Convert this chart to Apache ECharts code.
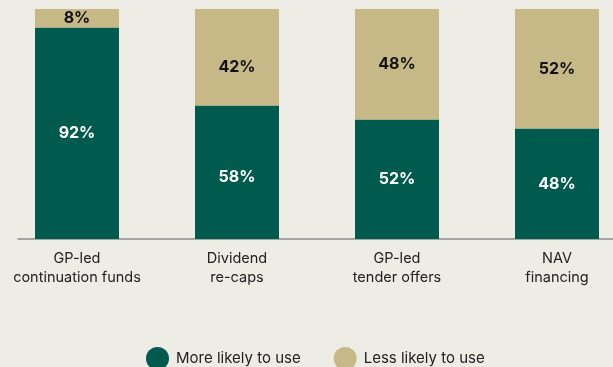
<!DOCTYPE html>
<html>
<head>
<meta charset="utf-8">
<script src="https://cdn.jsdelivr.net/npm/echarts@6/dist/echarts.min.js"></script>
<style>
  html, body { margin: 0; padding: 0; background: #EDECE5; }
  #chart { width: 613px; height: 367px; }
</style>
</head>
<body>
<div id="chart"></div>
<script>
// Deal structures and share of respondents by intention
const categories = [
  'GP-led\ncontinuation funds',
  'Dividend\nre-caps',
  'GP-led\ntender offers',
  'NAV\nfinancing'
];
const moreLikely = [92, 58, 52, 48];
const lessLikely = [8, 42, 48, 52];
const seriesNames = ['More likely to use', 'Less likely to use'];

const GREEN = '#005A4E';
const TAN = '#C7B888';
const FONT = 'Inter, "Noto Sans", sans-serif';

// the Dividend re-caps labels sit a little below their segment centres
const labelNudge = { 1: 10 };
const labelNudgeGreen = { 1: 5 };
const withNudge = (values, nudge) =>
  values.map((v, i) => (nudge[i] ? { value: v, label: { offset: [0, nudge[i]] } } : v));

const chart = echarts.init(document.getElementById('chart'), null, { renderer: 'canvas' });

chart.setOption({
  backgroundColor: '#EDECE5',
  animation: false,
  textStyle: { fontFamily: FONT },
  grid: [
    // bars: bands are 160px wide, so the plot runs a little past both edges
    { left: -3, right: -24, top: 9, height: 230, outerBoundsMode: 'none', containLabel: false },
    // baseline rule
    { left: 18, right: 0, top: 9, height: 230, outerBoundsMode: 'none' }
  ],
  xAxis: [
    {
      gridIndex: 0,
      type: 'category',
      data: categories,
      axisLine: { show: false },
      axisTick: { show: false },
      axisLabel: {
        interval: 0,
        color: '#222',
        fontSize: 14.5,
        lineHeight: 19,
        margin: 10,
        fontFamily: FONT
      }
    },
    {
      gridIndex: 1,
      type: 'category',
      data: [''],
      axisLine: { show: true, lineStyle: { color: '#8C8C8C', width: 1.5 } },
      axisTick: { show: false },
      axisLabel: { show: false }
    }
  ],
  yAxis: [
    { gridIndex: 0, type: 'value', min: 0, max: 100, show: false },
    { gridIndex: 1, type: 'value', min: 0, max: 100, show: false }
  ],
  legend: {
    left: 141,
    top: 342,
    itemWidth: 23,
    itemHeight: 23,
    itemGap: 33,
    icon: 'circle',
    textStyle: { color: '#222', fontSize: 15, fontFamily: FONT, padding: [0, 0, 0, 2] },
    data: seriesNames
  },
  series: [
    {
      name: seriesNames[0],
      type: 'bar',
      stack: 'total',
      barWidth: 84,
      data: withNudge(moreLikely, labelNudgeGreen),
      itemStyle: { color: GREEN },
      label: {
        show: true,
        position: 'inside',
        formatter: '{c}%',
        color: '#fff',
        fontWeight: 'bold',
        fontSize: 16,
        fontFamily: FONT
      }
    },
    {
      name: seriesNames[1],
      type: 'bar',
      stack: 'total',
      barWidth: 84,
      data: withNudge(lessLikely, labelNudge),
      itemStyle: { color: TAN },
      label: {
        show: true,
        position: 'inside',
        formatter: '{c}%',
        color: '#111',
        fontWeight: 'bold',
        fontSize: 16,
        fontFamily: FONT
      }
    }
  ]
});
</script>
</body>
</html>
